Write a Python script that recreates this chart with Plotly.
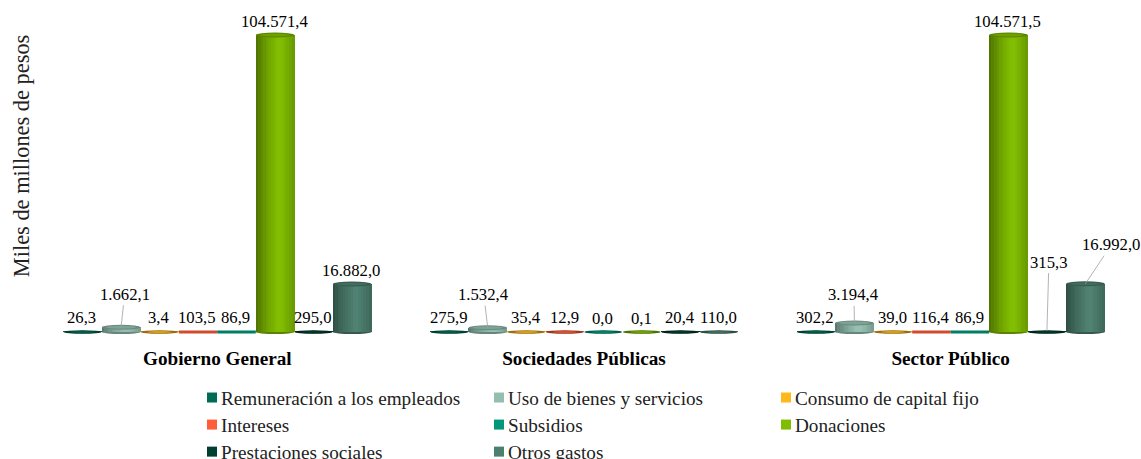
import plotly.graph_objects as go

groups = ["Gobierno General", "Sociedades Públicas", "Sector Público"]
series = ["Remuneración a los empleados", "Uso de bienes y servicios", "Consumo de capital fijo",
          "Intereses", "Subsidios", "Donaciones", "Prestaciones sociales", "Otros gastos"]
remuneracion = [26.3, 275.9, 302.2]
uso_bienes = [1662.1, 1532.4, 3194.4]
consumo_capital = [3.4, 35.4, 39.0]
intereses = [103.5, 12.9, 116.4]
subsidios = [86.9, 0.0, 86.9]
donaciones = [104571.4, 0.1, 104571.5]
prestaciones = [295.0, 20.4, 315.3]
otros = [16882.0, 110.0, 16992.0]
values = [remuneracion, uso_bienes, consumo_capital, intereses, subsidios, donaciones, prestaciones, otros]
labels = [["26,3", "275,9", "302,2"], ["1.662,1", "1.532,4", "3.194,4"], ["3,4", "35,4", "39,0"],
          ["103,5", "12,9", "116,4"], ["86,9", "0,0", "86,9"], ["104.571,4", "0,1", "104.571,5"],
          ["295,0", "20,4", "315,3"], ["16.882,0", "110,0", "16.992,0"]]
colors = ["#006B54", "#94BFB0", "#FFB81C", "#FF5C39", "#009879", "#80BC00", "#00402F", "#4D7F6F"]
flat_series = [3, 4]  # drawn as thin flat rectangles when near zero
leaders = {(1, 0): (3.5, -33), (1, 1): (-4, -33), (1, 2): (-0.5, -28), (6, 2): (2, -69), (7, 2): (26, -39)}

W, H = 1141, 459
L, R = 33.8, 1133.8
T, B = 10, 340
BASE_PX = 332
PX_PER_UNIT = 297 / 104571.4
CAT_PX = (R - L) / 3
PITCH = 38.5 / CAT_PX
STRIPS = 15
THIN = 1200


def shade(hex_c, f):
    r, g, b = int(hex_c[1:3], 16), int(hex_c[3:5], 16), int(hex_c[5:7], 16)
    if f <= 1:
        c = [v * f for v in (r, g, b)]
    else:
        c = [v + (255 - v) * (f - 1) for v in (r, g, b)]
    return "#%02x%02x%02x" % tuple(int(round(v)) for v in c)


def profile(t):
    # cylinder lighting: dark on the left, brightest right of centre, dimmer on the right
    if t < 0.6:
        return 0.56 + (1.03 - 0.56) * (t / 0.6) ** 0.7
    return 1.03 - (1.03 - 0.8) * ((t - 0.6) / 0.4) ** 1.3


fig = go.Figure()
gx = list(range(3))
for i, name in enumerate(series):
    xs = [g + (i - 3.5) * PITCH for g in gx]
    fig.add_trace(go.Bar(x=xs, y=values[i], width=PITCH, name=f'<span style="font-size:19.2px">{name}</span>',
                         marker=dict(color=colors[i], line_width=0), hoverinfo="skip"))
for i, name in enumerate(series):
    sw = PITCH / STRIPS
    for k in range(STRIPS):
        t = (k + 0.5) / STRIPS
        xs = [g + (i - 3.5) * PITCH - PITCH / 2 + t * PITCH for g in gx]
        vis = [v if v > THIN else None for v in values[i]]
        fig.add_trace(go.Bar(x=xs, y=vis, width=sw * 1.2, showlegend=False,
                             marker=dict(color=shade(colors[i], profile(t)), line_width=0), hoverinfo="skip"))

shapes = []
annos = []


def ellipse(x, y, w, h, color, layer="above"):
    shapes.append(dict(type="circle", xref="x", yref="y", xsizemode="pixel", ysizemode="pixel",
                       xanchor=x, yanchor=y, x0=-w / 2, x1=w / 2, y0=-h / 2, y1=h / 2,
                       fillcolor=color, line_width=0, layer=layer))


for i, name in enumerate(series):
    for g in gx:
        x = g + (i - 3.5) * PITCH
        v = values[i][g]
        if v > THIN:
            ellipse(x, 0, 38.5, 4, shade(colors[i], 0.7), "below")
            ellipse(x, v, 38.5, 5, shade(colors[i], 0.72))
            ellipse(x, v, 30, 3, shade(colors[i], 0.85))
        elif i in flat_series and v > 50:
            shapes.append(dict(type="rect", xref="x", yref="y", xsizemode="pixel", ysizemode="pixel",
                               xanchor=x, yanchor=0, x0=-19.2, x1=19.2, y0=-1.5, y1=1.5,
                               fillcolor=shade(colors[i], 0.82), line_width=0, layer="above"))
        else:
            ellipse(x, 0, 38, 3.6, shade(colors[i], 0.6))
            ellipse(x, 0, 24, 2.4, shade(colors[i], 0.85))
        txt = labels[i][g]
        font = dict(family="Liberation Serif", size=16.7, color="#000000")
        if (i, g) in leaders:
            ax, ay = leaders[(i, g)]
            annos.append(dict(x=x, y=v, xref="x", yref="y", text=txt, showarrow=True, arrowhead=0,
                              arrowwidth=0.8, arrowcolor="#a0a0a0", ax=ax, ay=ay, standoff=0, font=font))
        else:
            annos.append(dict(x=x, y=v, xref="x", yref="y", text=txt, showarrow=False, yshift=14, xshift=-0.7, font=font))

annos.append(dict(xref="paper", yref="paper", x=(21 - L) / (R - L), y=(B - 156) / (B - T), text="Miles de millones de pesos",
                  showarrow=False, textangle=-90, xanchor="center", yanchor="middle",
                  font=dict(family="Liberation Serif", size=22.4, color="#222222")))

fig.update_layout(
    width=W, height=H, barmode="overlay", bargap=0, paper_bgcolor="white", plot_bgcolor="white",
    margin=dict(l=L, r=W - R, t=T, b=H - B, pad=0, autoexpand=False),
    font=dict(family="Liberation Serif", color="#111111"),
    xaxis=dict(range=[-0.5, 2.5], tickmode="array", tickvals=gx, ticktext=[f"<b>{g}</b>" for g in groups],
               showgrid=False, zeroline=False, showline=False, ticks="", tickfont=dict(size=19.2, color="#000000"),
               ticklabelstandoff=5),
    yaxis=dict(range=[-(B - BASE_PX) / PX_PER_UNIT, (BASE_PX - T) / PX_PER_UNIT], visible=False),
    legend=dict(orientation="h", xref="container", yref="container", x=181 / W, y=1 - 379 / H, xanchor="left", yanchor="top",
                entrywidth=242, entrywidthmode="pixels", font=dict(size=18.5, family="Liberation Serif", color="#222222"),
                maxheight=200, bgcolor="rgba(0,0,0,0)", itemclick=False, itemdoubleclick=False),
    shapes=shapes, annotations=annos, showlegend=True,
)
post = """
document.body.style.margin='0';document.body.style.overflow='hidden';
document.querySelectorAll('.legend .legendsymbols').forEach(function(g){g.setAttribute('transform','translate(11,0)');});
document.querySelectorAll('.legend .legendsymbols path').forEach(function(p){p.setAttribute('d','M5,5H-5V-5H5Z');});
"""
fig.write_html("out.html", post_script=post, config=dict(displayModeBar=False))
